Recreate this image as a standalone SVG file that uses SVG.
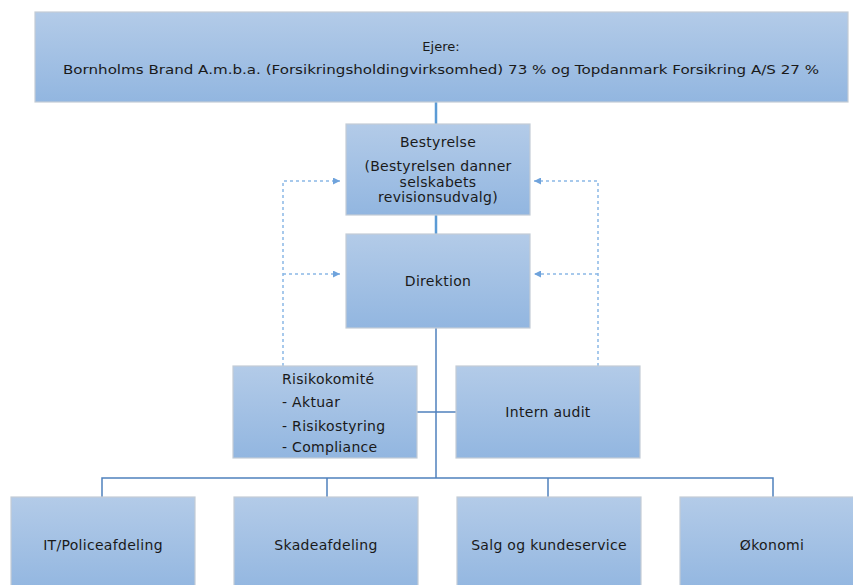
<svg xmlns="http://www.w3.org/2000/svg" width="853" height="585" viewBox="0 0 853 585">
<defs>
<linearGradient id="g" x1="0" y1="0" x2="0" y2="1">
<stop offset="0" stop-color="#b3cbe8"/>
<stop offset="1" stop-color="#92b6e0"/>
</linearGradient>
<marker id="ah" viewBox="0 0 10 10" refX="10" refY="5" markerWidth="7" markerHeight="7" markerUnits="userSpaceOnUse" orient="auto">
<path d="M0,0 L10,5 L0,10 z" fill="#6fa3dc"/>
</marker>
<style>
.box{fill:url(#g);stroke:#c3ccd6;stroke-width:1.2}
text{font-family:"DejaVu Sans",Verdana,sans-serif;font-size:14px;letter-spacing:0.3px;fill:#1a1a1a}
.c{text-anchor:middle}
.top{font-size:13px;letter-spacing:0}
.solid{stroke:#4f81bd;stroke-width:1.5;fill:none}
.thick{stroke:#5b9bd5;stroke-width:2.5;fill:none}
.dash{stroke:#8ab8e6;stroke-width:1.5;stroke-dasharray:3 3;fill:none}
</style>
</defs>
<rect width="853" height="585" fill="#ffffff"/>
<g id="connectors">
<line class="thick" x1="436" y1="102" x2="436" y2="124"/>
<line class="thick" x1="436" y1="215" x2="436" y2="234"/>
<line class="solid" x1="436" y1="328" x2="436" y2="478"/>
<line class="solid" x1="417" y1="412" x2="456" y2="412"/>
<polyline class="solid" points="102,497 102,478 773,478 773,497"/>
<line class="solid" x1="327" y1="478" x2="327" y2="497"/>
<line class="solid" x1="548" y1="478" x2="548" y2="497"/>
<polyline class="dash" points="283,366 283,181 340,181" marker-end="url(#ah)"/>
<line class="dash" x1="283" y1="274" x2="340" y2="274" marker-end="url(#ah)"/>
<polyline class="dash" points="598,366 598,181 534,181" marker-end="url(#ah)"/>
<line class="dash" x1="598" y1="274" x2="534" y2="274" marker-end="url(#ah)"/>
</g>
<g id="ejere">
<rect class="box" x="35" y="12" width="813" height="90"/>
<text class="c top" x="441" y="51">Ejere:</text>
<text class="c top" x="441" y="74" textLength="756" lengthAdjust="spacingAndGlyphs">Bornholms Brand A.m.b.a. (Forsikringsholdingvirksomhed)  73 % og Topdanmark Forsikring A/S 27 %</text>
</g>
<g id="bestyrelse">
<rect class="box" x="346" y="124" width="184" height="91"/>
<text class="c" x="438" y="147">Bestyrelse</text>
<text class="c" x="438" y="171">(Bestyrelsen danner</text>
<text class="c" x="438" y="187">selskabets</text>
<text class="c" x="438" y="202">revisionsudvalg)</text>
</g>
<g id="direktion">
<rect class="box" x="346" y="234" width="184" height="94"/>
<text class="c" x="438" y="286">Direktion</text>
</g>
<g id="risikokomite">
<rect class="box" x="233" y="366" width="184" height="92"/>
<text x="282" y="384">Risikokomité</text>
<text x="282" y="407">- Aktuar</text>
<text x="282" y="431">- Risikostyring</text>
<text x="282" y="452">- Compliance</text>
</g>
<g id="intern-audit">
<rect class="box" x="456" y="366" width="184" height="92"/>
<text class="c" x="548" y="417">Intern audit</text>
</g>
<g id="it">
<rect class="box" x="11" y="497" width="184" height="95"/>
<text class="c" x="103" y="550">IT/Policeafdeling</text>
</g>
<g id="skade">
<rect class="box" x="234" y="497" width="184" height="95"/>
<text class="c" x="326" y="550">Skadeafdeling</text>
</g>
<g id="salg">
<rect class="box" x="457" y="497" width="184" height="95"/>
<text class="c" x="549" y="550">Salg og kundeservice</text>
</g>
<g id="okonomi">
<rect class="box" x="680" y="497" width="184" height="95"/>
<text class="c" x="772" y="550">Økonomi</text>
</g>
</svg>
